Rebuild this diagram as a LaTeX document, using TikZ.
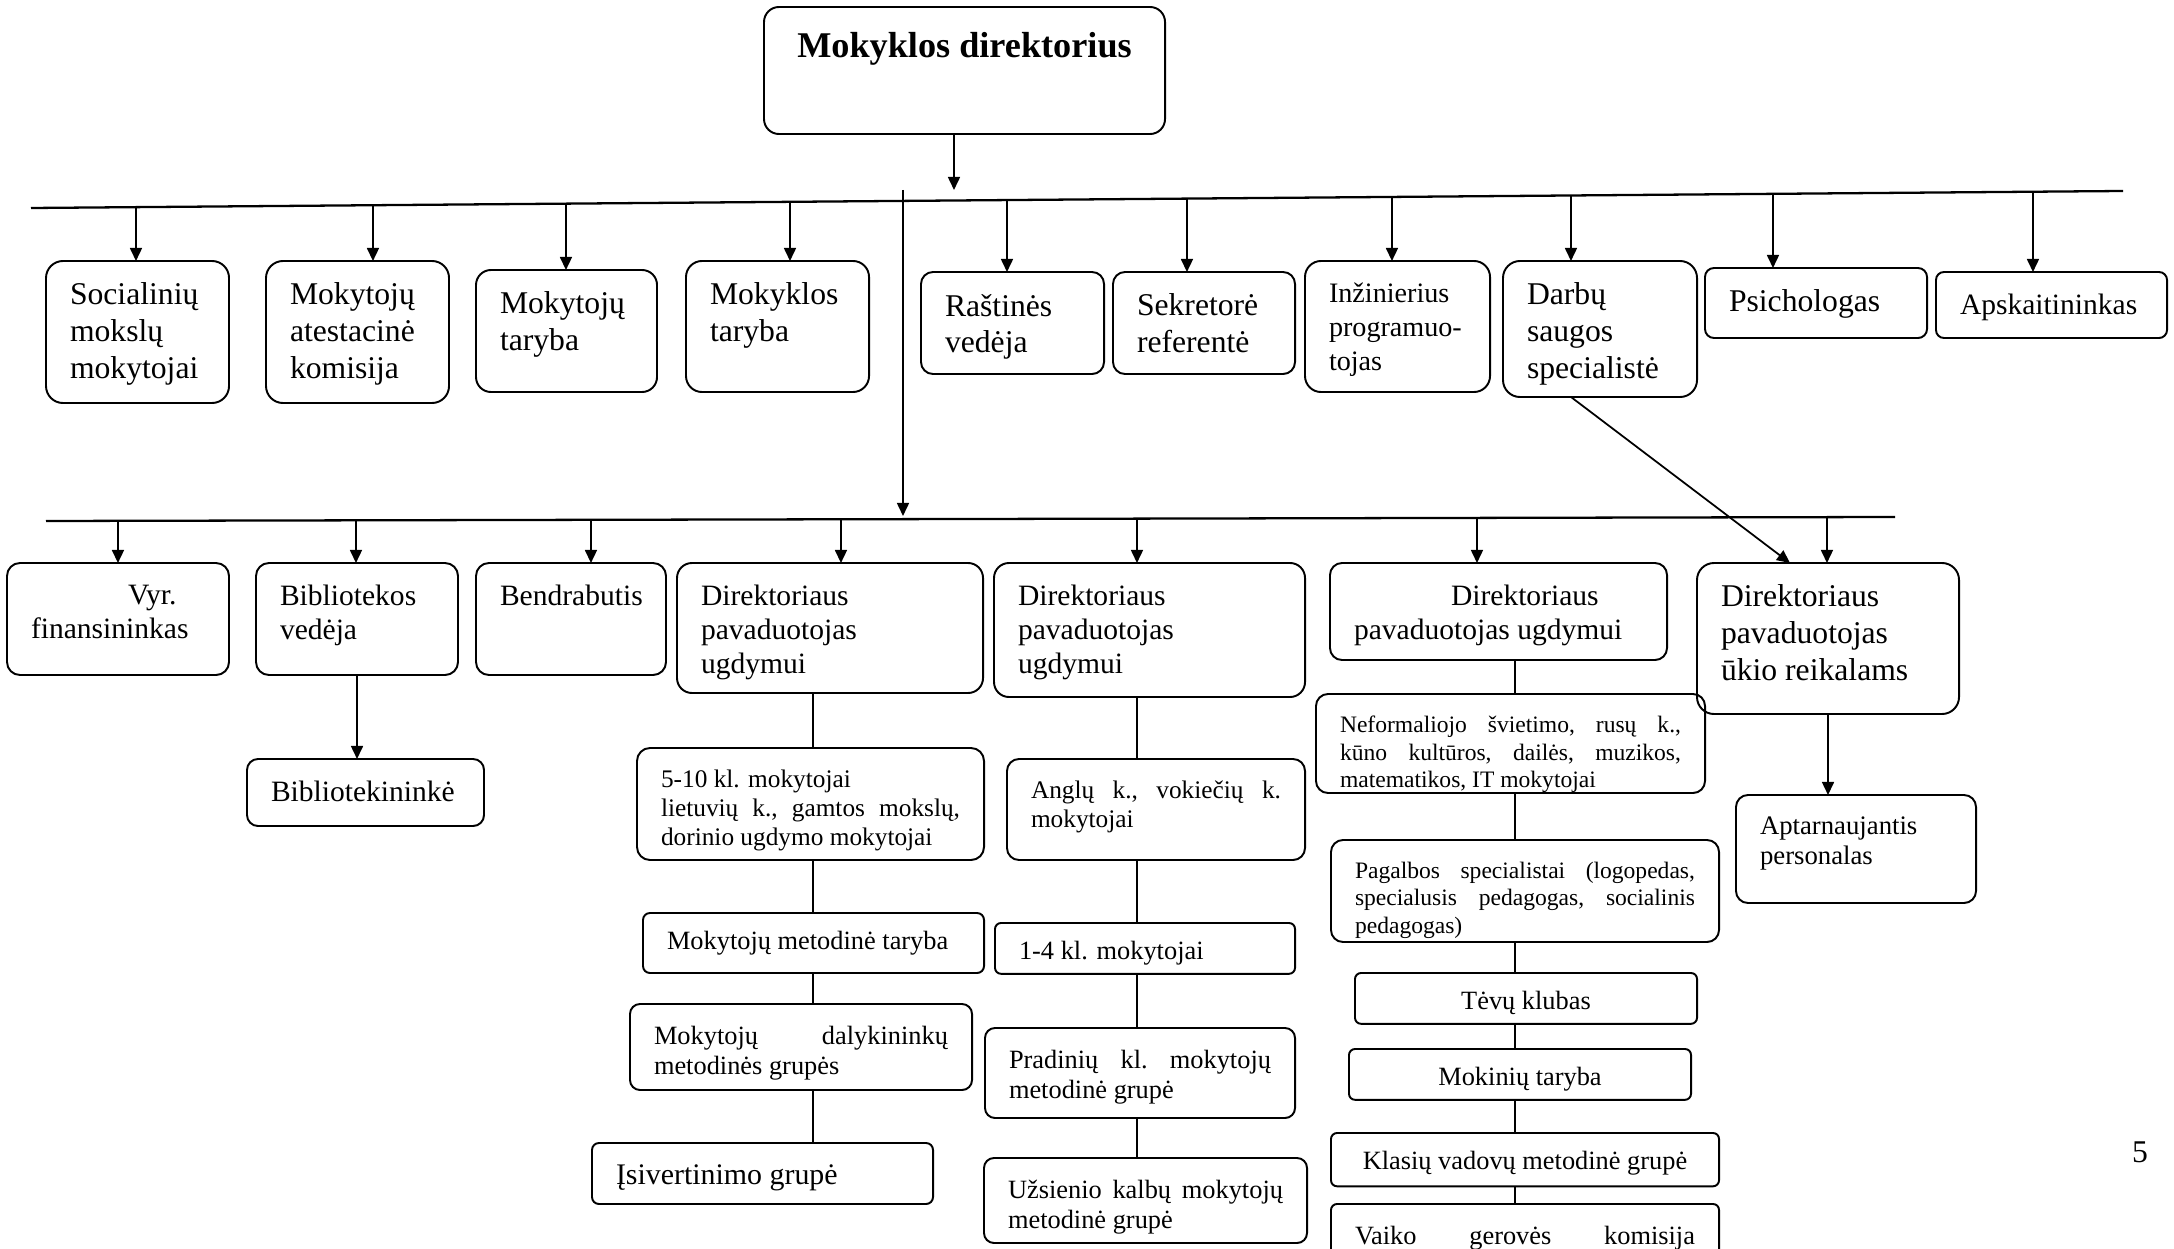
\documentclass[tikz,border=0pt]{standalone}
\usepackage{fontspec}
\setmainfont{Liberation Serif}
\usetikzlibrary{arrows.meta,calc}

\newlength\pxu
\setlength\pxu{0.01cm}
% box content: outer width, outer height (in px), text
\newcommand\bx[3]{\begin{minipage}[c][\dimexpr#2\pxu-36\pxu\relax][t]{\dimexpr#1\pxu-48\pxu\relax}\vspace*{4\pxu}\raggedright#3\end{minipage}}
\newcommand\fsA{\fontsize{9}{10.5}\selectfont}
\newcommand\fsB{\fontsize{8.4}{9.7}\selectfont}
\newcommand\fsC{\fontsize{7.5}{8.65}\selectfont}
\newcommand\fsD{\fontsize{7.2}{8.2}\selectfont}
\newcommand\fsE{\fontsize{6.7}{7.8}\selectfont}
\newcommand\fsF{\fontsize{8}{9.6}\selectfont}
\newcommand\ind{\hspace*{97\pxu}}
\newcommand\up{\vspace*{-4\pxu}}

\begin{document}
\begin{tikzpicture}[x=0.01cm, y=-0.01cm, >={Triangle[length=3.7pt,width=3.4pt]},
	box/.style={draw, line width=0.55pt, rounded corners=#1*0.01cm, inner xsep=0.24cm, inner ysep=0.18cm, outer sep=0pt, anchor=north west},
	box/.default=17,
	arr/.style={->, line width=0.5pt},
	link/.style={line width=0.5pt},
	main/.style={line width=0.65pt}]
	\useasboundingbox (0,0) rectangle (2174,1249);
	
	% --- Director ---
	\node[box=15] (dir) at (764,7) {\bx{401}{127}{\vspace*{3\pxu}\centering\fontsize{10.3}{11.8}\selectfont\bfseries Mokyklos direktorius}};
	
	% --- Top row ---
	\node[box] (soc) at (46,261) {\bx{183}{142}{\fsA Socialinių\\mokslų\\mokytojai}};
	\node[box] (atest) at (266,261) {\bx{183}{142}{\fsA Mokytojų\\atestacinė\\komisija}};
	\node[box=15] (mtar) at (476,270) {\bx{181}{122}{\fsA Mokytojų\\taryba}};
	\node[box=16] (mokt) at (686,261) {\bx{183}{131}{\fsA Mokyklos\\taryba}};
	\node[box=12] (rast) at (921,272) {\bx{183}{102}{\fsA Raštinės\\vedėja}};
	\node[box=12] (sekr) at (1113,272) {\bx{182}{102}{\fsA Sekretorė\\referentė}};
	\node[box=16] (inz) at (1305,261) {\bx{185}{131}{\fsF Inžinierius\\programuo-\\tojas}};
	\node[box] (darb) at (1503,261) {\bx{194}{136}{\fsA Darbų\\saugos\\specialistė}};
	\node[box=9] (psich) at (1705,268) {\bx{222}{70}{\fsA Psichologas}};
	\node[box=8] (apsk) at (1936,272) {\bx{231}{66}{\fsB Apskaitininkas}};
	
	% --- Second row ---
	\node[box=13] (fin) at (7,563) {\bx{222}{112}{\fsB\ind Vyr.\\finansininkas}};
	\node[box=13] (bibv) at (256,563) {\bx{202}{112}{\fsB Bibliotekos\\vedėja}};
	\node[box=13] (bendr) at (476,563) {\bx{190}{112}{\fsB Bendrabutis}};
	\node[box=15] (dir1) at (677,563) {\bx{306}{130}{\fsB Direktoriaus\\pavaduotojas\\ugdymui}};
	\node[box=15] (dir2) at (994,563) {\bx{311}{134}{\fsB Direktoriaus\\pavaduotojas\\ugdymui}};
	\node[box=12] (dir3) at (1330,563) {\bx{337}{97}{\fsB\ind Direktoriaus\\pavaduotojas ugdymui}};
	\node[box] (duk) at (1697,563) {\bx{262}{151}{\fsA Direktoriaus\\pavaduotojas\\ūkio reikalams}};
	
	% --- Columns ---
	\node[box=11] (biblk) at (247,759) {\bx{237}{67}{\fsB Bibliotekininkė}};
	
	\node[box=13] (b510) at (637,748) {\bx{347}{112}{\fsD 5-10 kl. mokytojai\\lietuvių\hfill k.,\hfill gamtos\hfill mokslų,\\dorinio ugdymo mokytojai}};
	\node[box=7] (mmt) at (643,913) {\bx{341}{60}{\up\fsC Mokytojų metodinė taryba}};
	\node[box=10] (dalyk) at (630,1004) {\bx{342}{86}{\fsC Mokytojų\hfill dalykininkų\\metodinės grupės}};
	\node[box=7] (isiv) at (592,1143) {\bx{341}{61}{\fontsize{8.5}{9.8}\selectfont Įsivertinimo grupė}};
	
	\node[box=12] (anglu) at (1007,759) {\bx{298}{101}{\fsD Anglų\hfill k.,\hfill vokiečių\hfill k.\\mokytojai}};
	\node[box=6] (k14) at (995,923) {\bx{300}{48}{\up\fsC 1-4 kl. mokytojai}};
	\node[box=10] (prad) at (985,1028) {\bx{310}{90}{\fsC Pradinių\hfill kl.\hfill mokytojų\\metodinė grupė}};
	\node[box=10] (uzs) at (984,1158) {\bx{323}{85}{\fsC Užsienio\hfill kalbų\hfill mokytojų\\metodinė grupė}};
	
	\node[box=12] (neo) at (1316,694) {\bx{389}{99}{\fsE Neformaliojo\hfill švietimo,\hfill rusų\hfill k.,\\kūno\hfill kultūros,\hfill dailės,\hfill muzikos,\\matematikos, IT mokytojai}};
	\node[box=12] (pagal) at (1331,840) {\bx{388}{102}{\fsE Pagalbos\hfill specialistai\hfill (logopedas,\\specialusis\hfill pedagogas,\hfill socialinis\\pedagogas)}};
	\node[box=6] (tevu) at (1355,973) {\bx{342}{48}{\up\centering\fsC Tėvų klubas}};
	\node[box=6] (mokin) at (1349,1049) {\bx{342}{48}{\up\centering\fsC Mokinių taryba}};
	\node[box=6] (klas) at (1331,1133) {\bx{388}{53}{\up\centering\fsC Klasių vadovų metodinė grupė}};
	\node[box=6] (vaiko) at (1331,1204) {\bx{388}{60}{\fsC Vaiko\hfill gerovės\hfill komisija}};
	
	\node[box=12] (apt) at (1736,795) {\bx{240}{108}{\fontsize{7.6}{8.6}\selectfont Aptarnaujantis\\personalas}};
	
	% page number
	\node (pnum) at (2140,1152) {\fsA 5};
	
	% --- Bus lines ---
	\coordinate (tl) at (31,208);
	\coordinate (tr) at (2123,191);
	\coordinate (bl) at (46,521);
	\coordinate (br) at (1895,517);
	\draw[main] (tl) -- (tr);
	\draw[main] (bl) -- (br);
	
	% director down to the top bus, and top bus down to the lower bus
	\coordinate (d0) at (954,190);
	\draw[arr] (dir.south -| d0) -- (d0);
	\coordinate (v0) at (903,190);
	\coordinate (v1) at (903,516);
	\draw[arr] (v0) -- (v1);
	
	% arrows from the buses
	\foreach \n/\x in {soc/136, atest/373, mtar/566, mokt/790, rast/1007, sekr/1187, inz/1392, darb/1571, psich/1773, apsk/2033} {
		\pgfmathsetmacro\t{(\x-31)/2092}
		\draw[arr] ($(tl)!\t!(tr)$) coordinate (s) -- (s |- \n.north);
	}
	\foreach \n/\x in {fin/118, bibv/356, bendr/591, dir1/841, dir2/1137, dir3/1477, duk/1827} {
		\pgfmathsetmacro\t{(\x-46)/1849}
		\draw[arr] ($(bl)!\t!(br)$) coordinate (s) -- (s |- \n.north);
	}
	
	% other arrows
	\draw[arr] (bibv.south) -- (bibv.south |- biblk.north);
	\draw[arr] (duk.south) -- (duk.south |- apt.north);
	\draw[arr] ([xshift=-0.29cm]darb.south) -- ([xshift=-0.38cm]duk.north);
	
	% plain links in the columns
	\coordinate (k1) at (813,0);
	\coordinate (k2) at (1137,0);
	\coordinate (k3) at (1515,0);
	\foreach \a/\b in {dir1/b510, b510/mmt, mmt/dalyk, dalyk/isiv}
		\draw[link] (k1 |- \a.south) -- (k1 |- \b.north);
	\foreach \a/\b in {dir2/anglu, anglu/k14, k14/prad, prad/uzs}
		\draw[link] (k2 |- \a.south) -- (k2 |- \b.north);
	\foreach \a/\b in {dir3/neo, neo/pagal, pagal/tevu, tevu/mokin, mokin/klas, klas/vaiko}
		\draw[link] (k3 |- \a.south) -- (k3 |- \b.north);
	
\end{tikzpicture}
\end{document}
